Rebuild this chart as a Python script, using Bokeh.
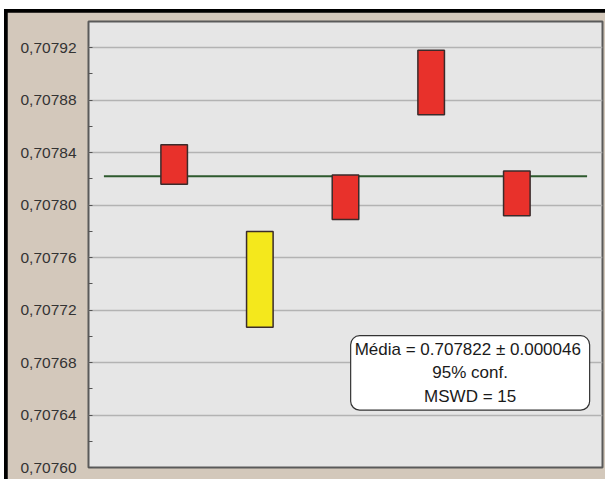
from bokeh.plotting import figure
from bokeh.layouts import column
from bokeh.models import FixedTicker, Label, Range1d
from bokeh.embed import file_html
from bokeh.resources import INLINE

# 87Sr/86Sr results per sample, shown as error boxes (low / high)
samples = [1, 2, 3, 4, 5]
box_high = [0.707846, 0.707780, 0.707823, 0.707918, 0.707826]
box_low = [0.707816, 0.707707, 0.707789, 0.707869, 0.707792]
box_colors = ["#e8312b", "#f4e81c", "#e8312b", "#e8312b", "#e8312b"]

# weighted mean
mean_value = 0.707822
mean_span = [0.18, 5.82]

tick_values = [0.70760, 0.70764, 0.70768, 0.70772, 0.70776,
               0.70780, 0.70784, 0.70788, 0.70792]
tick_labels = ["0,70760", "0,70764", "0,70768", "0,70772", "0,70776",
               "0,70780", "0,70784", "0,70788", "0,70792"]
minor_values = [0.70762, 0.70766, 0.70770, 0.70774, 0.70778,
                0.70782, 0.70786, 0.70790]

stats_text = "Média = 0.707822 ±  0.000046\n95% conf.\nMSWD = 15"

BEIGE = "#d3c8bb"

p = figure(width=598, height=467, output_backend="svg", toolbar_location=None,
           x_range=Range1d(0, 6), y_range=Range1d(0.70760, 0.70794),
           min_border_left=81, min_border_right=3, min_border_top=9,
           min_border_bottom=12, margin=(3, 0, 0, 3))
p.background_fill_color = "#e6e6e6"
p.border_fill_color = BEIGE
p.outline_line_color = "#5a5a5a"
p.outline_line_width = 2

p.xaxis.visible = False
p.xgrid.visible = False

p.yaxis.ticker = FixedTicker(ticks=tick_values, minor_ticks=minor_values)
p.yaxis.major_label_overrides = {v: s for v, s in zip(tick_values, tick_labels)}
p.yaxis.axis_line_color = None
p.yaxis.major_tick_in = 4
p.yaxis.major_tick_out = 0
p.yaxis.minor_tick_in = 4
p.yaxis.minor_tick_out = 0
p.yaxis.major_tick_line_color = "#555555"
p.yaxis.minor_tick_line_color = "#555555"
p.yaxis.major_label_standoff = 12
p.yaxis.major_label_text_font = "Liberation Sans"
p.yaxis.major_label_text_font_size = "15.5px"
p.yaxis.major_label_text_color = "#333333"

p.ygrid.grid_line_color = "#b3b3b3"
p.ygrid.grid_line_width = 1.6

# mean line
p.line(mean_span, [mean_value, mean_value], line_color="#2e5a2e", line_width=2)

# error boxes
p.quad(left=[s - 0.155 for s in samples], right=[s + 0.155 for s in samples],
       bottom=box_low, top=box_high, fill_color=box_colors,
       line_color="#3a2b2b", line_width=1.5)

# statistics box
p.add_layout(Label(x=4.455, y=0.7076721, text=stats_text,
                   text_align="center", text_baseline="middle",
                   text_font="Liberation Sans", text_font_size="17px",
                   text_color="#1a1a1a", text_line_height=1.25,
                   background_fill_color="white", border_line_color="#333333",
                   border_line_width=1.2, border_radius=9, padding=4))

# black rule along the top and left edges of the figure
layout = column(p, margin=(9, 0, 0, 4), styles={"background-color": "black"})

open("out.html", "w").write(file_html(layout, INLINE))
